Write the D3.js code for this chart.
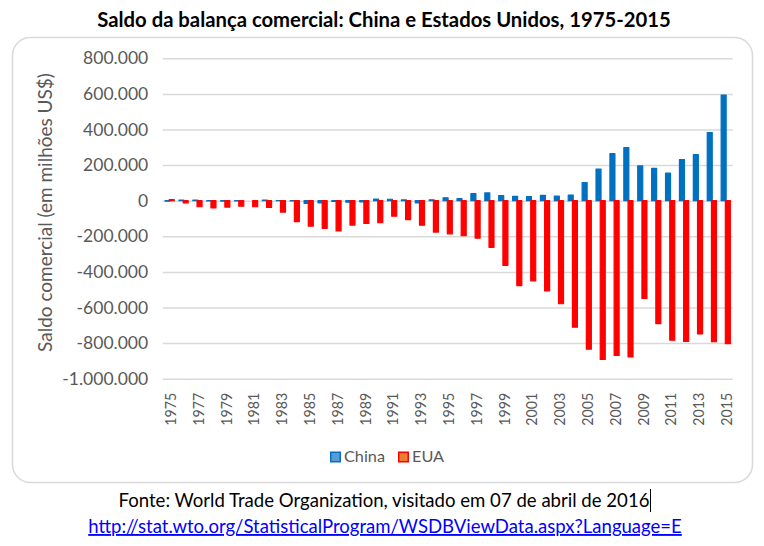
<!DOCTYPE html>
<html><head><meta charset="utf-8">
<script src="https://cdn.jsdelivr.net/npm/d3@7"></script>
<style>body{margin:0;background:#fff} svg{display:block}</style>
</head><body><svg id="c" width="764" height="546"></svg>
<script>
// ---- data ----
const years = [1975,1976,1977,1978,1979,1980,1981,1982,1983,1984,1985,1986,1987,1988,1989,1990,1991,1992,1993,1994,1995,1996,1997,1998,1999,2000,2001,2002,2003,2004,2005,2006,2007,2008,2009,2010,2011,2012,2013,2014,2015];
const china = [-2300,2800,3800,-1100,-2000,-1700,0,3000,800,-1300,-14900,-12000,-3800,-7800,-6600,8700,8100,4400,-12200,5400,16700,12200,40400,43500,29200,24100,22500,30400,25500,32100,102000,177500,264300,298100,195700,181500,154900,230300,259000,383100,593900];
const eua = [5500,-12600,-34000,-41000,-36000,-31000,-34000,-38000,-64000,-117000,-143000,-155000,-170000,-137000,-128000,-124000,-87000,-106000,-138000,-176000,-186000,-197000,-210000,-262000,-363000,-477000,-450000,-507000,-579000,-711000,-834000,-892000,-869000,-878000,-549000,-691000,-784000,-791000,-749000,-792000,-803000];
const seriesNames = ["China","EUA"];
const yTicks = [-1000000,-800000,-600000,-400000,-200000,0,200000,400000,600000,800000];
const xTickYears = [1975,1977,1979,1981,1983,1985,1987,1989,1991,1993,1995,1997,1999,2001,2003,2005,2007,2009,2011,2013,2015];
const titleText = "Saldo da balança comercial: China e Estados Unidos, 1975-2015";
const yTitle = "Saldo comercial (em milhões US$)";
const sourceText = "Fonte: World Trade Organization, visitado em 07 de abril de 2016";
const linkText = "http://stat.wto.org/StatisticalProgram/WSDBViewData.aspx?Language=E";

// ---- styles ----
const FONT = "Lato, 'Open Sans', sans-serif";
const colors = {China:"#0070C0", EUA:"#FF0000"};
const legendFill = {China:"#5B9BD5", EUA:"#ED7D31"};
const grey = "#595959";

const svg = d3.select("#c").style("font-family", FONT);
function fit(sel, w){
  const fs = parseFloat(sel.style("font-size"));
  const l = sel.node().getComputedTextLength();
  sel.style("font-size", (fs*w/l)+"px");
}

// chart frame
svg.append("rect").attr("x",12.5).attr("y",37.5).attr("width",740).attr("height",445)
  .attr("rx",18).attr("fill","#fff").attr("stroke","#d9d9d9").attr("stroke-width",1.5);

// title
const t = svg.append("text").attr("x",384).attr("y",27).attr("text-anchor","middle")
  .style("font-weight","bold").style("font-size","18px").attr("fill","#000").text(titleText);
fit(t, 574);

const x = d3.scaleBand().domain(years).range([162.7,732.7]).padding(0);
const y = d3.scaleLinear().domain([-1000000,800000]).range([378.7,58.3]);
const off = d3.scalePoint().domain(seriesNames).range([-2.1,2.1]);
const fmt = d3.formatLocale({decimal:",",thousands:".",grouping:[3],currency:["",""],minus:"-"}).format(",");

// gridlines
svg.append("g").attr("transform","translate(162.7,0)")
  .call(d3.axisLeft(y).tickValues(yTicks).tickSize(-570).tickFormat(""))
  .call(g=>g.select(".domain").remove())
  .call(g=>g.selectAll("line").attr("stroke","#d9d9d9").attr("stroke-width",1.5));

// y labels
const ya = svg.append("g").attr("transform","translate(162.7,0)")
  .call(d3.axisLeft(y).tickValues(yTicks).tickSize(0).tickPadding(14.5).tickFormat(fmt))
  .call(g=>g.select(".domain").remove());
ya.selectAll("text").attr("fill",grey).style("font-family",FONT).style("font-size","15px");
{
  const lab = ya.selectAll("text").filter(d=>d===-1000000);
  const fs = parseFloat(lab.style("font-size"));
  const s = fs*86/lab.node().getComputedTextLength();
  ya.selectAll("text").style("font-size", s+"px");
}

// bars
const series = seriesNames.map(n=>({name:n, values: n==="China"?china:eua}));
const rectW = 5;
svg.append("g").selectAll("g").data(series).join("g")
  .attr("fill",d=>colors[d.name]).attr("stroke",d=>colors[d.name])
  .attr("stroke-width",1.2).attr("stroke-linejoin","round")
  .each(function(s){
    d3.select(this).selectAll("rect").data(s.values.map((v,i)=>({v,year:years[i]}))).join("rect")
      .attr("x",d=>x(d.year)+x.bandwidth()/2+off(s.name)-rectW/2)
      .attr("width",rectW)
      .attr("y",d=>Math.min(y(d.v),y(0)))
      .attr("height",d=>Math.abs(y(d.v)-y(0)));
  });

// x labels
const xa = svg.append("g").attr("transform","translate(0,378.7)")
  .call(d3.axisBottom(x).tickValues(xTickYears).tickSize(0))
  .call(g=>g.select(".domain").remove());
xa.selectAll("text").attr("fill",grey).style("font-family",FONT).style("font-size","16px")
  .attr("x",0).attr("y",0).attr("dy","0.36em").attr("text-anchor","end")
  .attr("textLength",33).attr("lengthAdjust","spacingAndGlyphs")
  .attr("transform","translate(0.5,14) rotate(-90)");

// y title
const yt = svg.append("text").attr("transform","translate(45,212.5) rotate(-90)")
  .attr("text-anchor","middle").attr("dy","0.35em").attr("fill",grey).style("font-size","17px").text(yTitle);
fit(yt, 279);

// legend
const legX = {China:330, EUA:398};
const lg = svg.append("g").selectAll("g").data(seriesNames).join("g")
  .attr("transform",d=>`translate(${legX[d]},451.5)`);
lg.append("rect").attr("x",0.75).attr("y",0.75).attr("width",9.5).attr("height",9.5)
  .attr("fill",d=>legendFill[d]).attr("stroke",d=>colors[d]).attr("stroke-width",1.5);
lg.append("text").attr("x",14).attr("y",10.5).attr("fill",grey).style("font-size","15px").text(d=>d)
  .each(function(d){ if(d==="China") fit(d3.select(this),41); });
lg.filter(d=>d==="EUA").select("text").style("font-size", lg.filter(d=>d==="China").select("text").style("font-size"));

// footer
const ft = svg.append("text").attr("x",384).attr("y",507).attr("text-anchor","middle")
  .attr("fill","#000").style("font-size","16px").text(sourceText);
fit(ft, 531);
svg.append("line").attr("x1",650.5).attr("x2",650.5).attr("y1",489).attr("y2",512).attr("stroke","#000").attr("stroke-width",1);
const lk = svg.append("text").attr("x",385).attr("y",533).attr("text-anchor","middle")
  .attr("fill","#0000FF").style("font-size","16px").style("text-decoration","underline").text(linkText);
fit(lk, 594);
</script></body></html>
